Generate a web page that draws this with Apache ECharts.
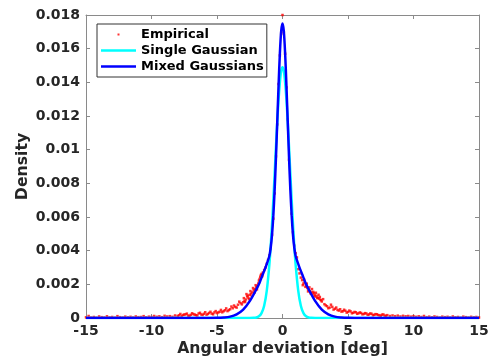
<!DOCTYPE html>
<html>
<head>
<meta charset="utf-8">
<script src="https://cdn.jsdelivr.net/npm/echarts@6/dist/echarts.min.js"></script>
<style>html,body{margin:0;padding:0;background:#fff}#c{width:489px;height:363px}</style>
</head>
<body>
<div id="c"></div>
<script>
// ---- data ----
const xTicks = [-15, -10, -5, 0, 5, 10, 15];
const yTicks = [0, 0.002, 0.004, 0.006, 0.008, 0.01, 0.012, 0.014, 0.016, 0.018];

const empiricalMain = [
[-15.0,0.00004],[-14.8,0.00012],[-14.6,0.00003],[-14.4,0.00006],[-14.2,0.00002],[-14.0,0.00009],[-13.8,0.00005],[-13.6,0.00003],
[-13.4,0.00010],[-13.2,0.00004],[-13.0,0.00006],[-12.8,0.00002],[-12.6,0.00011],[-12.4,0.00005],[-12.2,0.00003],[-12.0,0.00008],
[-11.8,0.00004],[-11.6,0.00007],[-11.4,0.00003],[-11.2,0.00009],[-11.0,0.00005],[-10.8,0.00006],[-10.6,0.00011],[-10.4,0.00004],
[-10.2,0.00008],[-10.0,0.00006],[-9.8,0.00012],[-9.6,0.00007],[-9.4,0.00010],[-9.2,0.00005],[-9.0,0.00013],[-8.8,0.00009],
[-8.6,0.00011],[-8.4,0.00007],[-8.2,0.00015],[-8.0,0.00012],[-7.8,0.00024],[-7.6,0.00018],[-7.4,0.00022],[-7.2,0.00014],
[-7.0,0.00019],[-6.8,0.00023],[-6.6,0.00017],[-6.4,0.00027],[-6.2,0.00021],[-6.0,0.00025],[-5.8,0.00020],[-5.6,0.00030],
[-5.4,0.00026],[-5.2,0.00033],[-5.0,0.00029],[-4.8,0.00037],[-4.6,0.00034],[-4.4,0.00046],[-4.2,0.00041],[-4.0,0.00052],
[-3.8,0.00058],[-3.6,0.00066],[-3.4,0.00079],[-3.2,0.00088],[-3.0,0.00094],
[-2.9,0.00102],[-2.8,0.00110],[-2.7,0.00128],[-2.6,0.00119],[-2.5,0.00138],[-2.4,0.00145],[-2.3,0.00152],[-2.2,0.00166],
[-2.1,0.00172],[-2.0,0.00185],[-1.9,0.00190],[-1.8,0.00222],[-1.7,0.00245],[-1.6,0.00262],[-1.5,0.00270],[-1.4,0.00285],
[-1.3,0.00300],[-1.2,0.00322],[-1.1,0.00345],[-1.0,0.00372],[-0.9,0.00410],[-0.8,0.00495],[-0.7,0.00590],[-0.6,0.00740],
[-0.5,0.00960],[-0.4,0.01150],[-0.3,0.01390],[-0.2,0.01560],[-0.1,0.01690],[0.0,0.01800],[0.1,0.01700],[0.2,0.01570],
[0.3,0.01370],[0.4,0.01180],[0.5,0.00940],[0.6,0.00770],[0.7,0.00620],[0.8,0.00510],[0.9,0.00430],[1.0,0.00385],
[1.1,0.00360],[1.2,0.00290],[1.3,0.00265],[1.4,0.00240],[1.5,0.00225],[1.6,0.00205],[1.7,0.00212],[1.8,0.00190],
[1.9,0.00178],[2.0,0.00168],[2.1,0.00160],[2.2,0.00152],[2.3,0.00140],[2.4,0.00148],[2.5,0.00135],[2.6,0.00128],
[2.7,0.00120],[2.8,0.00115],[2.9,0.00108],
[3.0,0.00098],[3.2,0.00082],[3.4,0.00070],[3.6,0.00062],[3.8,0.00066],[4.0,0.00055],[4.2,0.00048],[4.4,0.00052],
[4.6,0.00040],[4.8,0.00043],[5.0,0.00036],[5.2,0.00039],[5.4,0.00031],[5.6,0.00034],[5.8,0.00028],[6.0,0.00030],
[6.2,0.00024],[6.4,0.00027],[6.6,0.00021],[6.8,0.00025],[7.0,0.00019],[7.2,0.00022],[7.4,0.00016],[7.6,0.00020],
[7.8,0.00014],[8.0,0.00017],[8.2,0.00012],[8.4,0.00015],[8.6,0.00011],[8.8,0.00014],[9.0,0.00009],[9.2,0.00013],
[9.4,0.00010],[9.6,0.00012],[9.8,0.00008],[10.0,0.00011],[10.2,0.00007],[10.4,0.00010],[10.6,0.00006],[10.8,0.00012],
[11.0,0.00005],[11.2,0.00008],[11.4,0.00004],[11.6,0.00009],[11.8,0.00006],[12.0,0.00003],[12.2,0.00008],[12.4,0.00005],
[12.6,0.00007],[12.8,0.00003],[13.0,0.00009],[13.2,0.00004],[13.4,0.00006],[13.6,0.00002],[13.8,0.00008],[14.0,0.00005],
[14.2,0.00003],[14.4,0.00007],[14.6,0.00004],[14.8,0.00006],[15.0,0.00003]
];

const empiricalExtra = [
[-7.9,0.00016],[-7.7,0.00011],[-7.5,0.00020],[-7.3,0.00026],[-7.1,0.00013],[-6.9,0.00028],[-6.7,0.00020],[-6.5,0.00015],
[-6.3,0.00031],[-6.1,0.00018],[-5.9,0.00034],[-5.7,0.00024],[-5.5,0.00037],[-5.3,0.00022],[-5.1,0.00041],[-4.9,0.00033],
[-4.7,0.00048],[-4.5,0.00040],[-4.3,0.00057],[-4.1,0.00047],[-3.9,0.00068],[-3.7,0.00074],[-3.5,0.00062],[-3.3,0.00097],
[-3.1,0.00081],
[-2.95,0.00118],[-2.85,0.00095],[-2.75,0.00142],[-2.65,0.00133],[-2.55,0.00112],[-2.45,0.00160],[-2.35,0.00128],
[-2.25,0.00178],[-2.15,0.00150],[-2.05,0.00195],[-1.95,0.00170],[-1.85,0.00205],[-1.75,0.00232],[-1.65,0.00255],
[-1.55,0.00248],
[1.55,0.00195],[1.65,0.00228],[1.75,0.00185],[1.85,0.00204],[1.95,0.00158],[2.05,0.00182],[2.15,0.00146],[2.25,0.00172],
[2.35,0.00155],[2.45,0.00128],[2.55,0.00150],[2.65,0.00118],[2.75,0.00138],[2.85,0.00125],[2.95,0.00105],
[3.1,0.00112],[3.3,0.00075],[3.5,0.00058],[3.7,0.00079],[3.9,0.00050],[4.1,0.00062],[4.3,0.00044],[4.5,0.00038],
[4.7,0.00049],[4.9,0.00032],[5.1,0.00044],[5.3,0.00028],[5.5,0.00036],[5.7,0.00025],[5.9,0.00033],[6.1,0.00022],
[6.3,0.00029],[6.5,0.00019],[6.7,0.00027],[6.9,0.00016],[7.1,0.00023],[7.3,0.00018],[7.5,0.00013],[7.7,0.00021],
[7.9,0.00012]
];

const singleGaussian = [
[-15,0],[-5,0],[-3,0],[-2.5,0.000002],[-2.2,0.00001],[-2.0,0.00003],[-1.8,0.0001],[-1.6,0.00029],[-1.4,0.00073],
[-1.2,0.00163],[-1.0,0.0032],[-0.9,0.00429],[-0.8,0.00556],[-0.7,0.0070],[-0.6,0.00856],[-0.5,0.01014],[-0.4,0.01165],
[-0.3,0.01298],[-0.2,0.0140],[-0.1,0.01468],[0,0.0149],
[0.1,0.01468],[0.2,0.0140],[0.3,0.01298],[0.4,0.01165],[0.5,0.01014],[0.6,0.00856],[0.7,0.0070],[0.8,0.00556],
[0.9,0.00429],[1.0,0.0032],[1.2,0.00163],[1.4,0.00073],[1.6,0.00029],[1.8,0.0001],[2.0,0.00003],[2.2,0.00001],
[2.5,0.000002],[3,0],[5,0],[15,0]
];

const mixedGaussians = [
[-15,0],[-6,0],[-5,0.00001],[-4.5,0.00003],[-4,0.00008],[-3.5,0.00022],[-3,0.0005],[-2.5,0.001],[-2,0.0017],
[-1.75,0.0021],[-1.5,0.0026],[-1.25,0.0031],[-1.0,0.0037],[-0.9,0.00418],[-0.8,0.00494],[-0.7,0.00608],[-0.6,0.00761],
[-0.5,0.00951],[-0.4,0.01166],[-0.3,0.01383],[-0.2,0.01573],[-0.1,0.01705],[0,0.0175],
[0.1,0.01705],[0.2,0.01573],[0.3,0.01383],[0.4,0.01166],[0.5,0.00951],[0.6,0.00761],[0.7,0.00608],[0.8,0.00494],
[0.9,0.00418],[1.0,0.0037],[1.25,0.0031],[1.5,0.0026],[1.75,0.0021],[2,0.0017],[2.5,0.001],[3,0.0005],[3.5,0.00022],
[4,0.00008],[4.5,0.00003],[5,0.00001],[6,0],[15,0]
];

const seriesNames = ['Empirical', 'Single Gaussian', 'Mixed Gaussians'];
const seriesColors = ['#ff0000', '#00ffff', '#0000ff'];

// ---- chart ----
const FONT = 'DejaVu Sans';
const chart = echarts.init(document.getElementById('c'), null, {renderer: 'canvas'});
const axisGray = '#8a8a8a';
const labelColor = '#262626';

const baseX = {
  type: 'value', min: xTicks[0], max: xTicks[xTicks.length - 1], interval: xTicks[1] - xTicks[0],
  axisLine: {show: true, onZero: false, lineStyle: {color: axisGray, width: 1}},
  axisTick: {show: true, inside: true, length: 4, lineStyle: {color: axisGray}},
  splitLine: {show: false}
};
const baseY = {
  type: 'value', min: yTicks[0], max: yTicks[yTicks.length - 1], interval: yTicks[1] - yTicks[0],
  axisLine: {show: true, onZero: false, lineStyle: {color: axisGray, width: 1}},
  axisTick: {show: true, inside: true, length: 4, lineStyle: {color: axisGray}},
  splitLine: {show: false}
};

const dotIcon = 'path://M-17.5,-6.5L-17.5,-6.5M17.5,6.5L17.5,6.5M-1,-1L1,-1L1,1L-1,1Z';
const lineIcon = 'path://M-17.5,-6.5L-17.5,-6.5M17.5,6.5L17.5,6.5M-17.5,-1.2L17.5,-1.2L17.5,1.2L-17.5,1.2Z';

chart.setOption({
  animation: false,
  backgroundColor: '#fff',
  textStyle: {fontFamily: FONT},
  grid: {left: 86, right: 10, top: 15, bottom: 45, containLabel: false, outerBoundsMode: 'none'},
  legend: {
    orient: 'vertical', left: 97, top: 24,
    padding: [4, 3, 4, 4], itemGap: 3, itemWidth: 35, itemHeight: 13,
    borderColor: '#333', borderWidth: 1, backgroundColor: '#fff',
    textStyle: {fontFamily: FONT, fontSize: 13, fontWeight: 'bold', color: '#000'},
    data: [
      {name: seriesNames[0], icon: dotIcon, itemStyle: {color: seriesColors[0], borderWidth: 0}},
      {name: seriesNames[1], icon: lineIcon, itemStyle: {color: seriesColors[1], borderWidth: 0}},
      {name: seriesNames[2], icon: lineIcon, itemStyle: {color: seriesColors[2], borderWidth: 0}}
    ]
  },
  xAxis: [
    Object.assign({}, baseX, {
      position: 'bottom',
      name: 'Angular deviation [deg]', nameLocation: 'middle', nameGap: 23, nameMoveOverlap: false,
      nameTextStyle: {fontFamily: FONT, fontSize: 15.7, fontWeight: 'bold', color: labelColor},
      axisLabel: {fontFamily: FONT, fontSize: 14, fontWeight: 'bold', color: labelColor, margin: 6}
    }),
    Object.assign({}, baseX, {position: 'top', axisLabel: {show: false}})
  ],
  yAxis: [
    Object.assign({}, baseY, {
      position: 'left',
      name: 'Density', nameLocation: 'middle', nameGap: 55, nameMoveOverlap: false,
      nameTextStyle: {fontFamily: FONT, fontSize: 15.7, fontWeight: 'bold', color: labelColor},
      axisLabel: {fontFamily: FONT, fontSize: 14, fontWeight: 'bold', color: labelColor, margin: 6,
        formatter: v => String(parseFloat(v.toFixed(4)))}
    }),
    Object.assign({}, baseY, {position: 'right', axisLabel: {show: false}})
  ],
  series: [
    {name: seriesNames[0], type: 'scatter', data: empiricalMain.concat(empiricalExtra), symbol: 'rect', symbolSize: 2.5,
      itemStyle: {color: seriesColors[0]}, silent: true, z: 2},
    {name: seriesNames[1], type: 'line', data: singleGaussian, symbol: 'none', smooth: 0.3,
      lineStyle: {color: seriesColors[1], width: 2.5}, itemStyle: {color: seriesColors[1]}, silent: true, z: 3},
    {name: seriesNames[2], type: 'line', data: mixedGaussians, symbol: 'none', smooth: 0.3,
      lineStyle: {color: seriesColors[2], width: 2.5}, itemStyle: {color: seriesColors[2]}, silent: true, z: 4}
  ]
});
</script>
</body>
</html>
